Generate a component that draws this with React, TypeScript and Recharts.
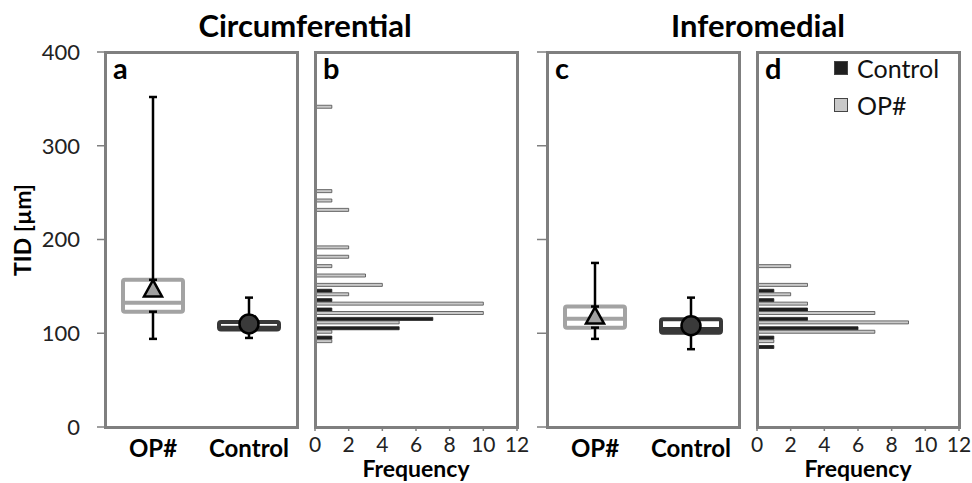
import React from "react";
import { ComposedChart, BarChart, Bar, Scatter, XAxis, YAxis, Legend } from "recharts";

const FONT = "Lato, 'Open Sans', sans-serif";
const FRAME = "#7f7f7f";
const OP_BOX = "#a3a3a3";
const CTRL_BOX = "#383838";
const OP_BAR = "#c9c9c9";
const CTRL_BAR = "#202020";

// box plot groups
const groups = ["OP#", "Control"];

// Circumferential (µm), order: OP#, Control
const circQ1 = [123, 104];
const circMedian = [132.5, 106];
const circQ3 = [157, 112];
const circMean = [147, 110];
const circLow = [94, 95];
const circHigh = [352, 138];

// Inferomedial (µm)
const infQ1 = [106, 100.5];
const infMedian = [115.5, 104.5];
const infQ3 = [128.5, 115];
const infMean = [118, 108];
const infLow = [94, 83];
const infHigh = [175, 138];

// histogram bins (TID, µm) and frequencies
const bins = [83, 93, 103, 113, 123, 133, 143, 153, 163, 173, 183, 193, 203, 213, 223, 233, 243, 253, 263, 273, 283, 293, 303, 313, 323, 333, 343];
const circControl = [0, 1, 5, 7, 1, 1, 1, 0, 0, 0, 0, 0, 0, 0, 0, 0, 0, 0, 0, 0, 0, 0, 0, 0, 0, 0, 0];
const circOP = [0, 1, 1, 5, 10, 10, 2, 4, 3, 1, 2, 2, 0, 0, 0, 2, 1, 1, 0, 0, 0, 0, 0, 0, 0, 0, 1];
const infControl = [1, 1, 6, 3, 3, 1, 1, 0, 0, 0, 0, 0, 0, 0, 0, 0, 0, 0, 0, 0, 0, 0, 0, 0, 0, 0, 0];
const infOP = [0, 1, 7, 9, 7, 3, 2, 3, 0, 2, 0, 0, 0, 0, 0, 0, 0, 0, 0, 0, 0, 0, 0, 0, 0, 0, 0];

const tidTicks = [0, 100, 200, 300, 400];
const freqTicks = [0, 2, 4, 6, 8, 10, 12];

function boxRows(q1: number[], med: number[], q3: number[], mean: number[], low: number[], high: number[]) {
  return groups.map((g, i) => ({ group: g, q1: q1[i], median: med[i], q3: q3[i], mean: mean[i], low: low[i], high: high[i] }));
}

function histRows(control: number[], op: number[]) {
  return bins.map((b, i) => ({ bin: b, Control: control[i], "OP#": op[i] }));
}

const circBox = boxRows(circQ1, circMedian, circQ3, circMean, circLow, circHigh);
const infBox = boxRows(infQ1, infMedian, infQ3, infMean, infLow, infHigh);
const circHist = histRows(circControl, circOP);
const infHist = histRows(infControl, infOP);

const BoxShape = (props: any) => {
  const { x, y, width, height, payload } = props;
  const top = Math.min(y, y + height);
  const h = Math.abs(height);
  const color = payload.group === "OP#" ? OP_BOX : CTRL_BOX;
  const medY = top + (h * (payload.q3 - payload.median)) / (payload.q3 - payload.q1);
  return (
    <g>
      <rect x={x} y={top} width={width} height={h} rx={2} fill="#fff" stroke={color} strokeWidth={4} />
      <line x1={x} x2={x + width} y1={medY} y2={medY} stroke={color} strokeWidth={4} />
    </g>
  );
};

const WhiskerShape = (props: any) => {
  const { x, y, width, height } = props;
  const cx = x + width / 2;
  const top = Math.min(y, y + height);
  const bot = Math.max(y, y + height);
  return (
    <g stroke="#000" strokeWidth={2.5}>
      <line x1={cx} x2={cx} y1={top} y2={bot} />
      <line x1={cx - 4} x2={cx + 4} y1={top} y2={top} />
      <line x1={cx - 4} x2={cx + 4} y1={bot} y2={bot} />
    </g>
  );
};

const MeanShape = (props: any) => {
  const { cx, cy, payload } = props;
  if (payload.group === "OP#") {
    const s = 9;
    return (
      <polygon
        points={`${cx},${cy - s} ${cx + s},${cy + s * 0.8} ${cx - s},${cy + s * 0.8}`}
        fill="#a0a0a0"
        stroke="#000"
        strokeWidth={2.5}
      />
    );
  }
  return <circle cx={cx} cy={cy} r={9.5} fill="#3a3a3a" stroke="#000" strokeWidth={2.5} />;
};

const EmptyTick = () => <g />;

const FreqLabel = (props: any) => {
  const { viewBox } = props;
  if (!viewBox) return null;
  return (
    <text x={viewBox.x + viewBox.width / 2} y={viewBox.y + viewBox.height - 6} textAnchor="middle"
      fontFamily={FONT} fontSize={23} fontWeight={700} fill="#000">
      Frequency
    </text>
  );
};

const LegendContent = (props: any) => (
  <div style={{ fontFamily: FONT, fontSize: 25, color: "#111" }}>
    {(props.payload || []).map((e: any) => (
      <div key={e.value} style={{ display: "flex", alignItems: "center", height: 37 }}>
        <span style={{ width: 12, height: 12, background: e.color, border: "1px solid #444", marginRight: 9, display: "inline-block" }} />
        {e.value}
      </div>
    ))}
  </div>
);

const tickStyle = { fontFamily: FONT, fontSize: 22, fill: "#222" };
const freqTickStyle = { fontFamily: FONT, fontSize: 21, fill: "#222" };
const catTickStyle = { fontFamily: FONT, fontSize: 24, fontWeight: 700, fill: "#000" };

function BoxPanel({ data, left, yWidth, labels }: { data: any[]; left: number; yWidth: number; labels: boolean }) {
  return (
    <div style={{ position: "absolute", left, top: 0 }}>
      <ComposedChart width={yWidth + 192 + 3} height={483} data={data} margin={{ top: 52, right: 3, bottom: 0, left: 0 }}>
        <XAxis dataKey="group" height={56} axisLine={false} tickLine={false} tickSize={0} tickMargin={13} tick={catTickStyle} interval={0} />
        <XAxis xAxisId="w1" dataKey="group" hide />
        <XAxis xAxisId="w2" dataKey="group" hide />
        <YAxis
          type="number"
          domain={[0, 400]}
          ticks={tidTicks}
          width={yWidth}
          axisLine={false}
          tickSize={yWidth === 105 ? 8 : 10}
          tickMargin={17}
          tickLine={{ stroke: FRAME, strokeWidth: 1.5 }}
          tick={labels ? tickStyle : EmptyTick}
        />
        <Bar dataKey={(d: any) => [d.q1, d.q3]} barSize={60} shape={BoxShape} isAnimationActive={false} />
        <Bar xAxisId="w1" dataKey={(d: any) => [d.q3, d.high]} barSize={10} shape={WhiskerShape} isAnimationActive={false} />
        <Bar xAxisId="w2" dataKey={(d: any) => [d.low, d.q1]} barSize={10} shape={WhiskerShape} isAnimationActive={false} />
        <Scatter dataKey="mean" shape={MeanShape} isAnimationActive={false} />
      </ComposedChart>
    </div>
  );
}

function HistPanel({ data, left, legend }: { data: any[]; left: number; legend: boolean }) {
  return (
    <div style={{ position: "absolute", left, top: 0 }}>
      <BarChart width={240} height={483} data={data} layout="vertical" barGap={0.5} margin={{ top: 52, right: 23, bottom: 0, left: 15 }}>
        <XAxis
          type="number"
          domain={[0, 12]}
          ticks={freqTicks}
          interval={0}
          height={56}
          axisLine={false}
          tickSize={4}
          tickMargin={6}
          tickLine={{ stroke: FRAME, strokeWidth: 1.5 }}
          tick={freqTickStyle}
          label={<FreqLabel />}
        />
        <YAxis type="number" dataKey="bin" domain={[0, 400]} reversed hide />
        <Bar dataKey="Control" fill={CTRL_BAR} stroke={CTRL_BAR} strokeWidth={0.8} barSize={3} isAnimationActive={false} />
        <Bar dataKey="OP#" fill={OP_BAR} stroke="#4a4a4a" strokeWidth={0.8} barSize={3} isAnimationActive={false} />
        {legend && (
          <Legend
            layout="horizontal"
            verticalAlign="middle"
            align="center"
            content={LegendContent}
            wrapperStyle={{ position: "absolute", left: 92, top: 49, width: "auto" }}
          />
        )}
      </BarChart>
    </div>
  );
}

const frames = [105, 315, 547, 757];
const frameWidths = [192, 202, 192, 202];
const letters = ["a", "b", "c", "d"];

export default function App() {
  return (
    <div style={{ position: "relative", width: 972, height: 483, background: "#fff", overflow: "hidden", fontFamily: FONT }}>
      <style>{"body{margin:0}"}</style>
      <BoxPanel data={circBox} left={0} yWidth={105} labels />
      <HistPanel data={circHist} left={300} legend={false} />
      <BoxPanel data={infBox} left={440} yWidth={107} labels={false} />
      <HistPanel data={infHist} left={742} legend />
      {frames.map((fx, i) => (
        <div
          key={fx}
          style={{ position: "absolute", left: fx - 1.5, top: 50.5, width: frameWidths[i] + 3, height: 378, border: `3px solid ${FRAME}`, boxSizing: "border-box", pointerEvents: "none" }}
        />
      ))}
      <svg width={972} height={483} style={{ position: "absolute", left: 0, top: 0, pointerEvents: "none" }}>
        <g fontFamily={FONT} fontWeight={700} fill="#000">
          <text x={305} y={37} fontSize={31} textAnchor="middle">Circumferential</text>
          <text x={758} y={37} fontSize={31} textAnchor="middle">Inferomedial</text>
          <text x={22} y={230} fontSize={23} textAnchor="middle" dominantBaseline="central" transform="rotate(-90 22 230)">
            TID [µm]
          </text>
          {frames.map((fx, i) => (
            <text key={letters[i]} x={fx + 8} y={79} fontSize={29}>
              {letters[i]}
            </text>
          ))}
        </g>
      </svg>
    </div>
  );
}
